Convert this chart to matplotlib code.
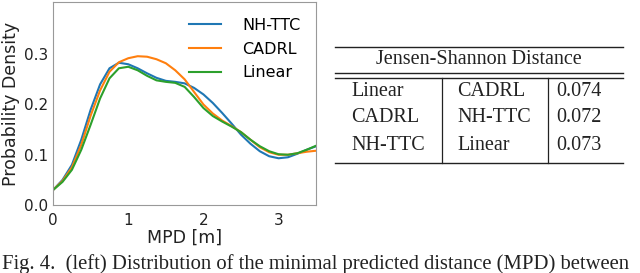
import numpy as np
import matplotlib.pyplot as plt
from matplotlib.lines import Line2D

# MPD grid [m]
mpd = np.arange(0, 3.5001, 0.125)

nh_ttc = [0.030, 0.050, 0.080, 0.130, 0.190, 0.240, 0.272, 0.283, 0.280, 0.272,
          0.262, 0.253, 0.247, 0.245, 0.242, 0.233, 0.220, 0.203, 0.183, 0.162,
          0.140, 0.122, 0.107, 0.097, 0.093, 0.095, 0.102, 0.110, 0.117]
cadrl = [0.030, 0.048, 0.075, 0.120, 0.178, 0.228, 0.265, 0.284, 0.292, 0.296,
         0.295, 0.290, 0.282, 0.268, 0.250, 0.225, 0.200, 0.182, 0.168, 0.157,
         0.145, 0.130, 0.115, 0.105, 0.100, 0.100, 0.103, 0.106, 0.108]
linear = [0.030, 0.046, 0.070, 0.110, 0.160, 0.212, 0.252, 0.272, 0.275, 0.268,
          0.257, 0.248, 0.245, 0.243, 0.235, 0.215, 0.193, 0.177, 0.166, 0.156,
          0.145, 0.130, 0.117, 0.107, 0.101, 0.100, 0.103, 0.110, 0.118]

table_header = 'Jensen-Shannon Distance'
col_a = ['Linear', 'CADRL', 'NH-TTC']
col_b = ['CADRL', 'NH-TTC', 'Linear']
jsd = ['0.074', '0.072', '0.073']

caption = 'Fig. 4.  (left) Distribution of the minimal predicted distance (MPD) between'

fig = plt.figure(figsize=(6.4, 2.73), dpi=100)
ax = fig.add_axes([0.083, 0.249, 0.411, 0.744])

ax.plot(mpd, nh_ttc, color='tab:blue', lw=1.5, label='NH-TTC')
ax.plot(mpd, cadrl, color='tab:orange', lw=1.5, label='CADRL')
ax.plot(mpd, linear, color='tab:green', lw=1.5, label='Linear')

ax.set_xlim(0, 3.5)
ax.set_ylim(0, 0.404)
ax.set_xticks([0, 1, 2, 3])
ax.set_yticks([0.0, 0.1, 0.2, 0.3])
ax.set_yticklabels(['0.0', '0.1', '0.2', '0.3'])
ax.tick_params(labelsize=11, length=0, labelcolor='#222222')
ax.tick_params(axis='y', pad=3.5)
ax.tick_params(axis='x', pad=6)
for s in ax.spines.values():
    s.set_color('#999999')
ax.set_xlabel('MPD [m]', fontsize=12.5, color='#222222', labelpad=0)
ax.set_ylabel('Probability Density', fontsize=12.5, color='#222222', labelpad=3)
ax.legend(loc='upper right', frameon=False, fontsize=11.5, handlelength=2.0,
          borderaxespad=0.6, labelspacing=0.55, handletextpad=1.3)

# table drawn in figure pixels
W, H = 640.0, 273.0
def fx(px):
    return px / W
def fy(py):
    return 1 - py / H

serif = 'Liberation Serif'
x0, x1 = 335, 623
for yy in [47, 73, 78, 163]:
    fig.add_artist(Line2D([fx(x0), fx(x1)], [fy(yy), fy(yy)], color='#222222', lw=1.0))
for xx in [442, 548]:
    fig.add_artist(Line2D([fx(xx), fx(xx)], [fy(78), fy(163)], color='#222222', lw=0.9))

fig.text(fx((x0 + x1) / 2), fy(60), table_header, family=serif, fontsize=14.5,
         ha='center', va='center', color='#222222')
row_y = [92, 118, 145]
for i in range(3):
    fig.text(fx(351), fy(row_y[i]), col_a[i], family=serif, fontsize=14.5,
             ha='left', va='center', color='#222222')
    fig.text(fx(457), fy(row_y[i]), col_b[i], family=serif, fontsize=14.5,
             ha='left', va='center', color='#222222')
    fig.text(fx(579), fy(row_y[i]), jsd[i], family=serif, fontsize=14.5,
             ha='center', va='center', color='#222222')

fig.text(fx(2), fy(264), caption, family=serif, fontsize=14.9,
         ha='left', va='center', color='#222222')

fig.savefig('out.png', dpi=100)
